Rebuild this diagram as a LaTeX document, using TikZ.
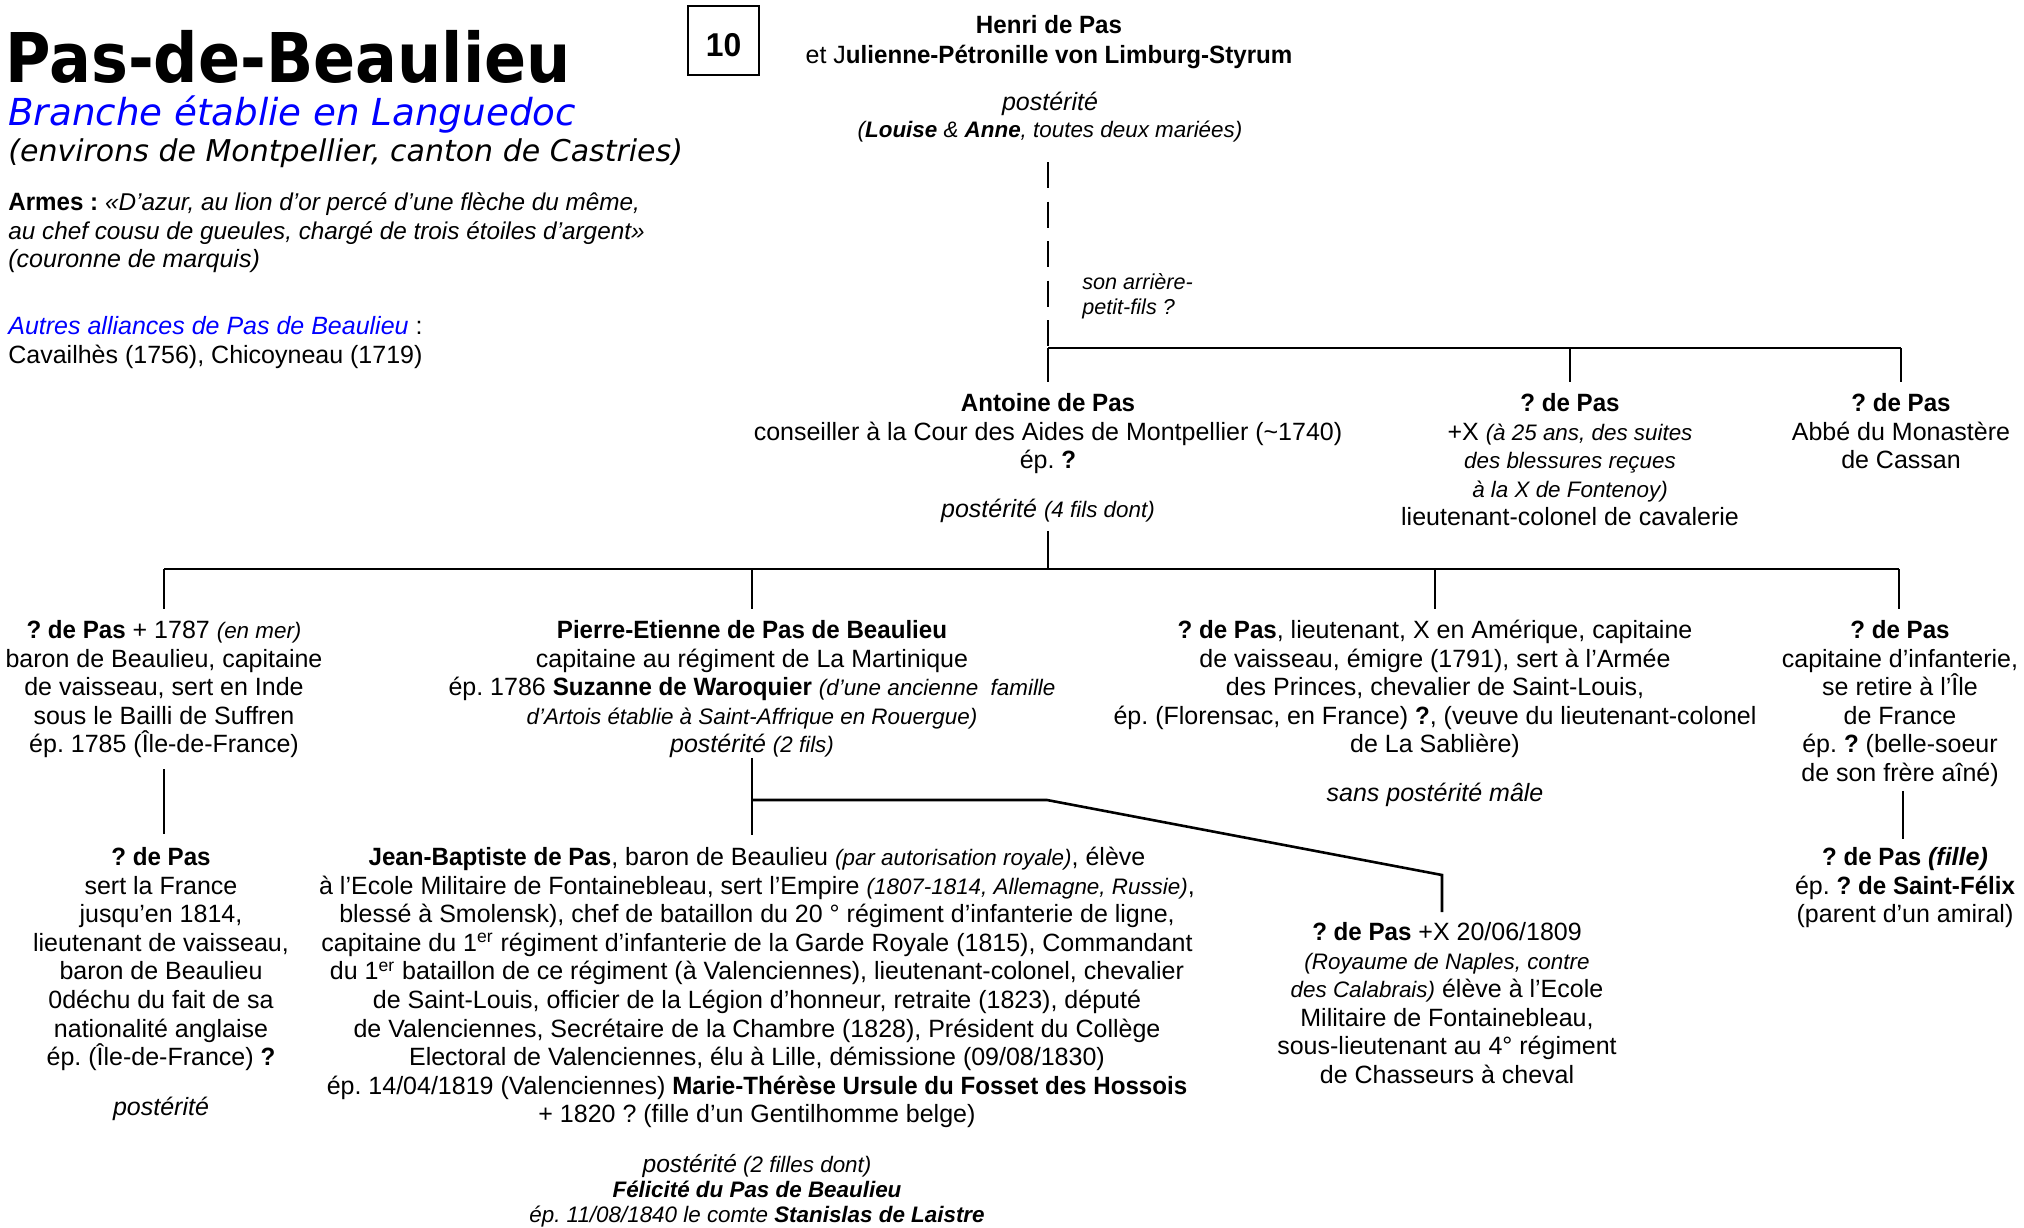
\documentclass[tikz,border=0pt]{standalone}
\usepackage{fontspec}
\setmainfont[BoldFeatures={FakeStretch=0.965}]{Liberation Sans}
\newfontfamily\titlefont[FakeStretch=0.905]{DejaVu Sans}
\newfontfamily\verdanafont{DejaVu Sans}
\definecolor{tblue}{RGB}{0,0,255}
\frenchspacing
\newcommand\bodyfont{\fontsize{12.5}{14.3}\selectfont\frenchspacing}
\newcommand\smit[1]{{\fontsize{11.2}{14.3}\selectfont\itshape #1}}
\newcommand\fstrut{\rule{0pt}{12pt}}
\tikzset{
  person/.style={align=center, inner sep=0pt, anchor=north, font=\bodyfont},
  note/.style={align=left, inner sep=0pt, anchor=north west, font=\bodyfont},
  link/.style={line width=1.3pt},
  dashlink/.style={line width=1.3pt, dash pattern=on 13pt off 6.75pt},
}
\begin{document}
\begin{tikzpicture}[x=0.5pt,y=-0.5pt]
\useasboundingbox[fill=white] (0,0) rectangle (2024,1227);

% ---------- header ----------
\node[anchor=base west, inner sep=0pt, font=\titlefont\bfseries\fontsize{34.3}{40}\selectfont] (title) at (5,82) {Pas-de-Beaulieu};
\node[anchor=base west, inner sep=0pt, text=tblue, font=\verdanafont\itshape\fontsize{18.6}{22}\selectfont] (sub) at (8,125) {Branche établie en Languedoc};
\node[anchor=base west, inner sep=0pt, font=\verdanafont\itshape\fontsize{15}{18}\selectfont] (env) at (8,161) {(environs de Montpellier, canton de Castries)};
\node[draw, line width=0.8pt, minimum width=35.5pt, minimum height=34.5pt, inner sep=0pt, font=\bfseries\fontsize{16.5}{18}\selectfont] (num) at (723.5,40.5) {\raisebox{-2.25pt}[\height][\depth]{10}};

\node[note] (armes) at (8,186) {\fstrut\textbf{Armes :} {\fontsize{12.15}{14.3}\selectfont\itshape «D’azur, au lion d’or percé d’une flèche du même,}\\ {\fontsize{12.15}{14.3}\selectfont\itshape au chef cousu de gueules, chargé de trois étoiles d’argent»}\\ \textit{(couronne de marquis)}};
\node[note] (autres) at (8,310) {\fstrut\textcolor{tblue}{\textit{Autres alliances de Pas de Beaulieu}} :\\ Cavailhès (1756), Chicoyneau (1719)};

% ---------- generation 1 ----------
\node[person, font=\fontsize{12.5}{15}\selectfont] (henri) at (1049,9) {\fstrut\textbf{Henri de Pas}\\ et J\textbf{ulienne-Pétronille von Limburg-Styrum}};
\node[person, font=\fontsize{12.5}{13.5}\selectfont] (post0) at (1050,86) {\fstrut\textit{postérité}\\ \smit{(\textbf{Louise} \& \textbf{Anne}, toutes deux mariées)}};
\node[note, font=\fontsize{10.8}{12.5}\selectfont\itshape] (arr) at (1082,265) {\fstrut son arrière-\\ petit-fils ?};

% ---------- generation 2 ----------
\node[person] (ant) at (1048,387) {\fstrut\textbf{Antoine de Pas}\\ conseiller à la Cour des Aides de Montpellier (\textasciitilde1740)\\ ép. \textbf{?}\\[10pt] \textit{postérité} \smit{(4 fils dont)}};
\node[person] (g2b) at (1570,387) {\fstrut\textbf{? de Pas}\\ +X \smit{(à 25 ans, des suites}\\ \smit{des blessures reçues}\\ \smit{à la X de Fontenoy)}\\ lieutenant-colonel de cavalerie};
\node[person] (g2c) at (1901,387) {\fstrut\textbf{? de Pas}\\ Abbé du Monastère\\ de Cassan};

% ---------- generation 3 ----------
\node[person] (g3a) at (164,614) {\fstrut\textbf{? de Pas} + 1787 \smit{(en mer)}\\ baron de Beaulieu, capitaine\\ de vaisseau, sert en Inde\\ sous le Bailli de Suffren\\ ép. 1785 (Île-de-France)};
\node[person] (g3b) at (752,614) {\fstrut\textbf{Pierre-Etienne de Pas de Beaulieu}\\ capitaine au régiment de La Martinique\\ ép. 1786 \textbf{Suzanne de Waroquier} \smit{(d’une ancienne\ \ famille}\\ \smit{d’Artois établie à Saint-Affrique en Rouergue)}\\ \textit{postérité} \smit{(2 fils)}};
\node[person] (g3c) at (1435,614) {\fstrut\textbf{? de Pas}, lieutenant, X en Amérique, capitaine\\ de vaisseau, émigre (1791), sert à l’Armée\\ des Princes, chevalier de Saint-Louis,\\ ép. (Florensac, en France) \textbf{?}, (veuve du lieutenant-colonel\\ de La Sablière)\\[10pt] \textit{sans postérité mâle}};
\node[person] (g3d) at (1900,614) {\fstrut\textbf{? de Pas}\\ capitaine d’infanterie,\\ se retire à l’Île\\ de France\\ ép. \textbf{?} (belle-soeur\\ de son frère aîné)};

% ---------- generation 4 ----------
\node[person] (g4a) at (161,841) {\fstrut\textbf{? de Pas}\\ sert la France\\ jusqu’en 1814,\\ lieutenant de vaisseau,\\ baron de Beaulieu\\ 0déchu du fait de sa\\ nationalité anglaise\\ ép. (Île-de-France) \textbf{?}\\[10.5pt] \textit{postérité}};
\node[person] (g4b) at (757,841) {\fstrut\textbf{Jean-Baptiste de Pas}, baron de Beaulieu \smit{(par autorisation royale)}, élève\\ à l’Ecole Militaire de Fontainebleau, sert l’Empire \smit{(1807-1814, Allemagne, Russie)},\\ blessé à Smolensk), chef de bataillon du 20 ° régiment d’infanterie de ligne,\\ capitaine du 1\textsuperscript{er} régiment d’infanterie de la Garde Royale (1815), Commandant\\ du 1\textsuperscript{er} bataillon de ce régiment (à Valenciennes), lieutenant-colonel, chevalier\\ de Saint-Louis, officier de la Légion d’honneur, retraite (1823), député\\ de Valenciennes, Secrétaire de la Chambre (1828), Président du Collège\\ Electoral de Valenciennes, élu à Lille, démissione (09/08/1830)\\ ép. 14/04/1819 (Valenciennes) \textbf{Marie-Thérèse Ursule du Fosset des Hossois}\\ + 1820 ? (fille d’un Gentilhomme belge)};
\node[person, font=\fontsize{11.2}{12.5}\selectfont\itshape] (g4bp) at (757,1148) {\fstrut{\fontsize{12.3}{12.5}\selectfont postérité} (2 filles dont)\\ \textbf{Félicité du Pas de Beaulieu}\\ ép. 11/08/1840 le comte \textbf{Stanislas de Laistre}};
\node[person] (g4c) at (1447,916) {\fstrut\textbf{? de Pas} +X 20/06/1809\\ \smit{(Royaume de Naples, contre}\\ \smit{des Calabrais)} élève à l’Ecole\\ Militaire de Fontainebleau,\\ sous-lieutenant au 4° régiment\\ de Chasseurs à cheval};
\node[person] (g4d) at (1905,841) {\fstrut\textbf{? de Pas \textit{(fille)}}\\ ép. \textbf{? de Saint-Félix}\\ (parent d’un amiral)};

% ---------- connectors ----------
\coordinate (d0) at (1048,162);
\coordinate (b1l) at (1048,348);
\coordinate (b1r) at (1901,348);
\draw[dashlink] (d0) -- (b1l);
\draw[link] (b1l) -- (b1r);
\draw[link] (b1l) -- ([yshift=2.5pt]ant.north);
\draw[link] (b1l -| g2b.north) -- ([yshift=2.5pt]g2b.north);
\draw[link] (b1r) -- ([yshift=2.5pt]g2c.north);

\coordinate (b2l) at (164,569);
\coordinate (b2r) at (1899,569);
\draw[link] ([yshift=-4pt]ant.south) -- (ant.south |- b2l);
\draw[link] (b2l) -- (b2r);
\draw[link] (b2l) -- ([yshift=2.5pt]g3a.north);
\draw[link] (b2l -| g3b.north) -- ([yshift=2.5pt]g3b.north);
\draw[link] (b2l -| g3c.north) -- ([yshift=2.5pt]g3c.north);
\draw[link] (b2r) -- ([yshift=2.5pt]b2r |- g3d.north);

\draw[link] ([yshift=-5.5pt]g3a.south) -- ([yshift=3.5pt]g3a.south |- g4a.north);
\draw[link] (g3b.south) -- ([yshift=3pt]g3b.south |- g4b.north);
\coordinate (kB) at (752,800);
\coordinate (kE) at (1047,800);
\coordinate (kD) at (1442,875);
\draw[link] (kB) -- (kE) -- (kD) -- ([yshift=2pt]kD |- g4c.north);
\coordinate (dx) at (1903,0);
\draw[link] ([yshift=-2pt]g3d.south -| dx) -- ([yshift=1pt]g4d.north -| dx);
\end{tikzpicture}
\end{document}
